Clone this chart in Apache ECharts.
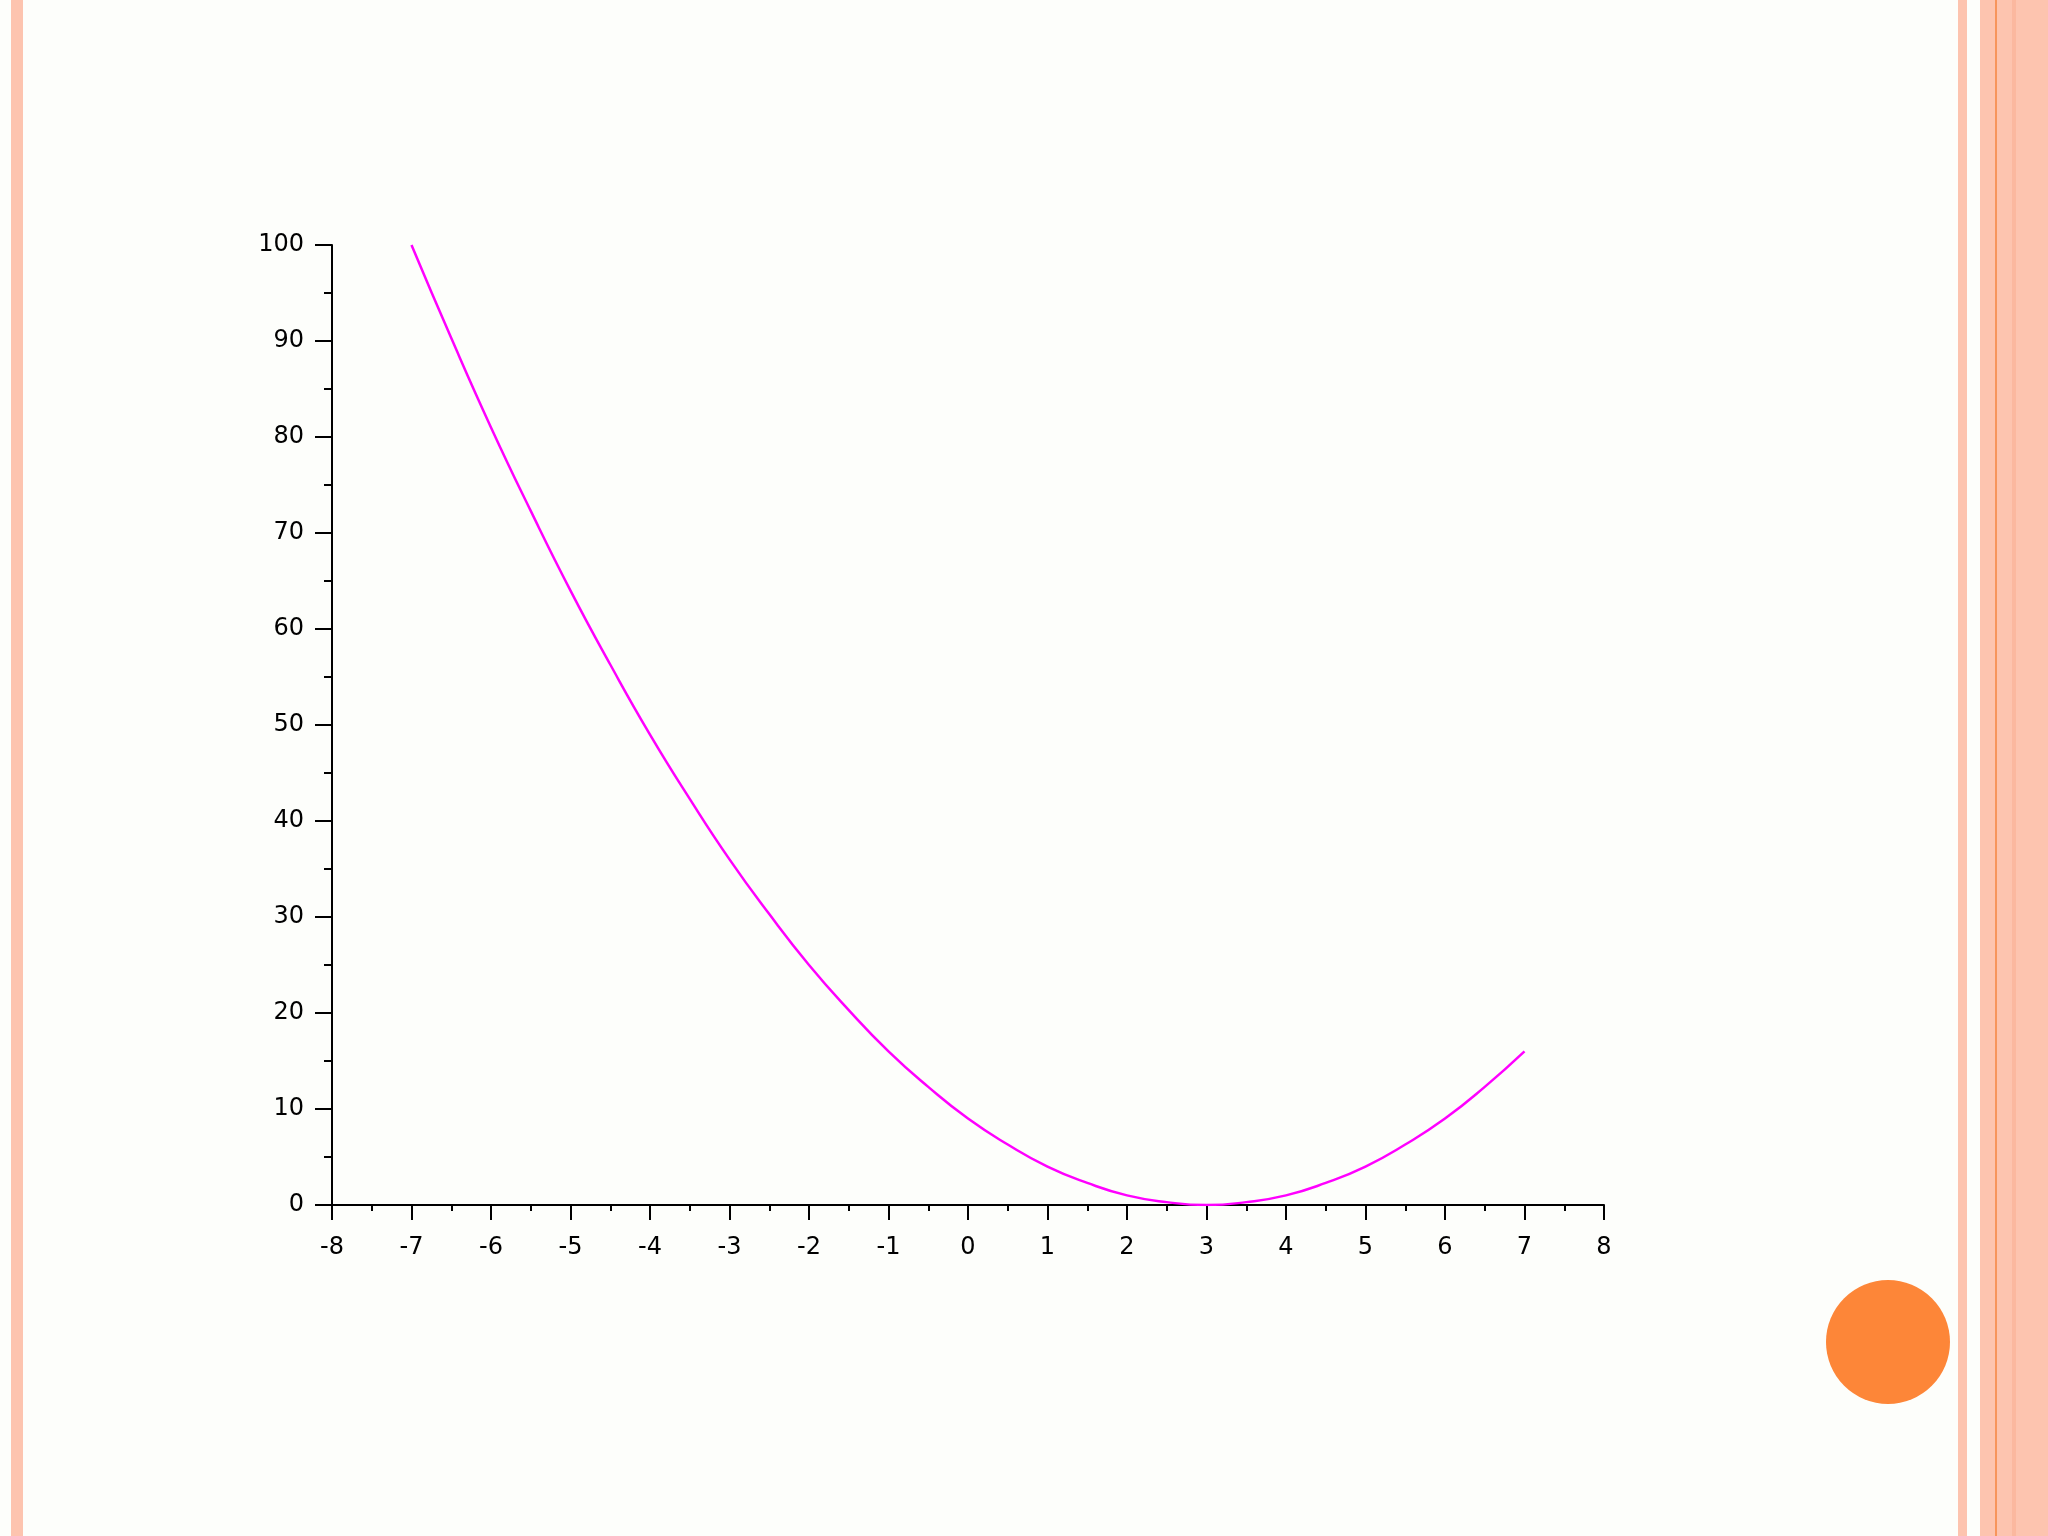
<!DOCTYPE html>
<html>
<head>
<meta charset="utf-8">
<script src="https://cdn.jsdelivr.net/npm/echarts@6/dist/echarts.min.js"></script>
<style>
html,body{margin:0;padding:0;background:#fdfefb;}
#chart{width:2048px;height:1536px;}
</style>
</head>
<body>
<div id="chart"></div>
<script>
// Data
const xValues = [-7, -6.5, -6, -5.5, -5, -4.5, -4, -3.5, -3, -2.5, -2, -1.5, -1, -0.5, 0, 0.5, 1, 1.5, 2, 2.5, 3, 3.5, 4, 4.5, 5, 5.5, 6, 6.5, 7];
const yValues = [100, 90.3, 81, 72.3, 64, 56.3, 49, 42.3, 36, 30.3, 25, 20.3, 16, 12.3, 9, 6.3, 4, 2.3, 1, 0.3, 0, 0.3, 1, 2.3, 4, 6.3, 9, 12.3, 16];
const xTicks = [-8, -7, -6, -5, -4, -3, -2, -1, 0, 1, 2, 3, 4, 5, 6, 7, 8];
const yTicks = [0, 10, 20, 30, 40, 50, 60, 70, 80, 90, 100];

const points = xValues.map((x, i) => [x, yValues[i]]);

const chart = echarts.init(document.getElementById('chart'));
const labelStyle = {color: '#000', fontFamily: 'DejaVu Sans, sans-serif', fontSize: 24};
chart.setOption({
  backgroundColor: '#fdfefb',
  animation: false,
  grid: {left: 332, right: 444, top: 245, bottom: 331, containLabel: false},
  xAxis: {
    type: 'value', min: xTicks[0], max: xTicks[xTicks.length - 1], interval: 1,
    axisLine: {show: true, onZero: false, lineStyle: {color: '#000', width: 2}},
    axisTick: {show: true, inside: false, length: 15, lineStyle: {color: '#000', width: 2}},
    minorTick: {show: true, splitNumber: 2, length: 6, lineStyle: {color: '#000', width: 2}},
    splitLine: {show: false},
    axisLabel: Object.assign({margin: 31}, labelStyle)
  },
  yAxis: {
    type: 'value', min: yTicks[0], max: yTicks[yTicks.length - 1], interval: 10,
    axisLine: {show: true, onZero: false, lineStyle: {color: '#000', width: 2}},
    axisTick: {show: true, inside: false, length: 17, lineStyle: {color: '#000', width: 2}},
    minorTick: {show: true, splitNumber: 2, length: 8, lineStyle: {color: '#000', width: 2}},
    splitLine: {show: false},
    axisLabel: Object.assign({margin: 28}, labelStyle)
  },
  series: [{
    type: 'line', data: points, smooth: true, showSymbol: false,
    lineStyle: {color: '#ff00ff', width: 2.5}, z: 5
  }],
  graphic: [
    {type: 'rect', shape: {x: 11, y: 0, width: 12, height: 1536}, style: {fill: '#fdc4af'}, silent: true},
    {type: 'rect', shape: {x: 1958, y: 0, width: 9, height: 1536}, style: {fill: '#fdc4af'}, silent: true},
    {type: 'rect', shape: {x: 1980, y: 0, width: 68, height: 1536}, style: {fill: '#fdc4af'}, silent: true},
    {type: 'rect', shape: {x: 2012, y: 0, width: 4, height: 1536}, style: {fill: '#fbb89f'}, silent: true},
    {type: 'rect', shape: {x: 1995, y: 0, width: 2, height: 1536}, style: {fill: '#f7955c'}, silent: true},
    {type: 'circle', shape: {cx: 1888, cy: 1342, r: 62}, style: {fill: '#fd8638'}, silent: true}
  ]
});
</script>
</body>
</html>
